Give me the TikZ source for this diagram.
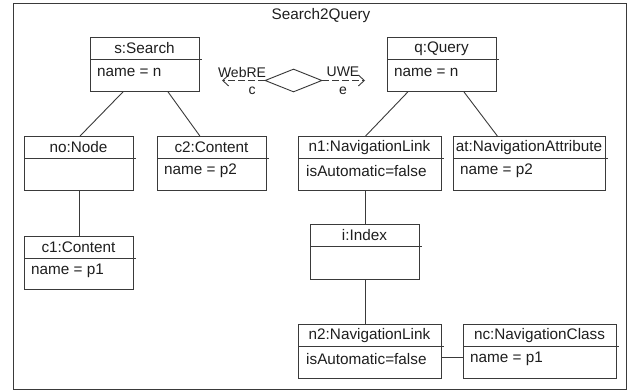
\documentclass[tikz,border=0pt]{standalone}
\usepackage{fontspec}
\setmainfont{Liberation Sans}
\usetikzlibrary{shapes.geometric,arrows.meta,calc}
\definecolor{ln}{HTML}{3A3A3A}
\definecolor{tx}{HTML}{1E1E1E}
\tikzset{
  objbox/.style={draw=ln, line width=0.9pt, inner sep=0pt, anchor=north west},
  hdr/.style={text=tx, inner sep=0pt, font=\fontsize{15.3}{18}\selectfont},
  attr/.style={text=tx, inner sep=0pt, anchor=west, font=\fontsize{15.3}{18}\selectfont},
  divline/.style={draw=ln, line width=0.9pt},
  link/.style={draw=ln, line width=0.9pt},
  dep/.style={draw=ln, line width=0.9pt, dash pattern=on 7pt off 3pt, -{Straight Barb[length=6pt,width=11pt]}},
  lbl/.style={text=tx, inner sep=0pt, font=\fontsize{14}{16}\selectfont}
}
\newcommand\UObj[6]{%
  \node[objbox, minimum width=#4 pt, minimum height=#5 pt] (#1) at (#2,#3) {};
  \node[hdr] (#1-t) at ($(#1.north west)+(#4/2,11.5)$) {#6};
  \draw[divline] ($(#1.north west)+(0,22)$) -- ($(#1.north east)+(2,22)$);
}
\begin{document}
\begin{tikzpicture}[x=1pt,y=-1pt]
\useasboundingbox (0,0) rectangle (629,390);
\node[draw=ln, line width=1.1pt, minimum width=613pt, minimum height=386pt, inner sep=0pt, anchor=north west] (frame) at (13,3) {};
\node[hdr] (title) at (321,16) {Search2Query};

\UObj{s}{90}{37}{109}{54}{s:Search}
\node[attr] (s-a) at ($(s.north west)+(7,35)$) {name = n};
\UObj{q}{387}{37}{109}{54}{q:Query}
\node[attr] (q-a) at ($(q.north west)+(7,35)$) {name = n};

\UObj{no}{24}{136}{109}{54}{no:Node}
\UObj{c2}{157}{136}{109}{54}{c2:Content}
\node[attr] (c2-a) at ($(c2.north west)+(7,35)$) {name = p2};
\UObj{n1}{298}{136}{143}{54}{n1:NavigationLink}
\node[attr] (n1-a) at ($(n1.north west)+(8,35)$) {isAutomatic=false};
\UObj{at}{453}{136}{152}{54}{at:NavigationAttribute}
\node[attr] (at-a) at ($(at.north west)+(7,35)$) {name = p2};

\UObj{c1}{24}{236}{109}{53}{c1:Content}
\node[attr] (c1-a) at ($(c1.north west)+(7,35)$) {name = p1};
\UObj{i}{310}{224}{109}{55}{i:Index}

\UObj{n2}{298}{324}{143}{54}{n2:NavigationLink}
\node[attr] (n2-a) at ($(n2.north west)+(8,35)$) {isAutomatic=false};
\UObj{nc}{463}{324}{153}{54}{nc:NavigationClass}
\node[attr] (nc-a) at ($(nc.north west)+(7,35)$) {name = p1};

% diamond and dependencies
\node[diamond, draw=ln, line width=0.9pt, minimum width=57pt, minimum height=23pt, inner sep=0pt] (d) at (293.5,80.5) {};
\coordinate (cw) at (222,80.5);
\coordinate (ce) at (365,80.5);
\draw[dep] (d.west) -- (cw);
\draw[dep] (d.east) -- (ce);
\node[lbl] (lw) at (242,72) {WebRE};
\node[lbl] (lc) at (252,91) {c};
\node[lbl] (lu) at (343,72) {UWE};
\node[lbl] (le) at (343,91) {e};

% links
\draw[link] ($(s.south west)!0.30!(s.south east)$) -- ($(no.north west)!0.51!(no.north east)$);
\draw[link] ($(s.south west)!0.71!(s.south east)$) -- ($(c2.north west)!0.39!(c2.north east)$);
\draw[link] ($(q.south west)!0.19!(q.south east)$) -- ($(n1.north west)!0.47!(n1.north east)$);
\draw[link] ($(q.south west)!0.70!(q.south east)$) -- ($(at.north west)!0.29!(at.north east)$);
\draw[link] ($(no.south west)!0.50!(no.south east)$) -- ($(c1.north west)!0.50!(c1.north east)$);
\draw[link] (i.north) -- (i.north |- n1.south);
\draw[link] (i.south) -- (i.south |- n2.north);
\draw[link] ($(n2.east)+(0,6)$) -- ($(nc.west)+(0,6)$);
\end{tikzpicture}
\end{document}
